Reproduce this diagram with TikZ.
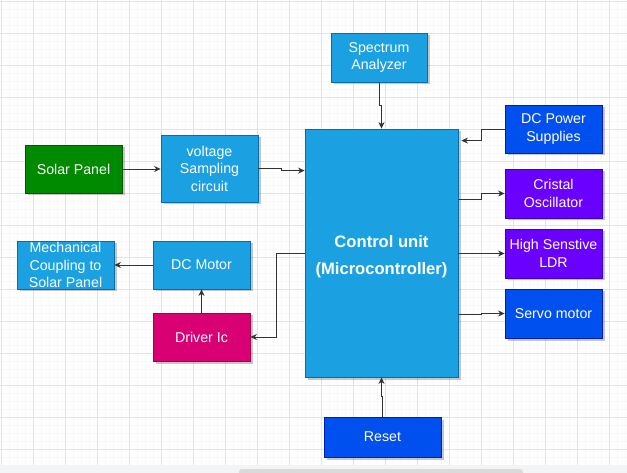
\documentclass[tikz,border=0pt]{standalone}
\usepackage{fontspec}
\setmainfont{Liberation Sans}
\usetikzlibrary{arrows.meta,shadows}

\definecolor{vert}{HTML}{008A00}
\definecolor{vertbord}{HTML}{005700}
\definecolor{cyan}{HTML}{1BA1E2}
\definecolor{cyanbord}{HTML}{006EAF}
\definecolor{rose}{HTML}{D80073}
\definecolor{rosebord}{HTML}{A50040}
\definecolor{bleu}{HTML}{0050EF}
\definecolor{bleubord}{HTML}{001DBC}
\definecolor{violet}{HTML}{6A00FF}
\definecolor{violetbord}{HTML}{3700CC}
\definecolor{trait}{HTML}{333333}
\definecolor{grillefine}{HTML}{F8F8F8}
\definecolor{grille}{HTML}{E3E3E3}
\definecolor{bande}{HTML}{F3F4F6}
\definecolor{curseur}{HTML}{DADADA}

\tikzset{
  bloc/.style={draw, line width=0.8pt, text=white, align=center, inner sep=0pt,
    font=\fontsize{14.2}{17.5}\selectfont,
    drop shadow={shadow xshift=2.5pt, shadow yshift=-2.5pt, fill=black, opacity=0.22}},
  liaison/.style={draw=trait, line width=0.9pt, -{Stealth[length=6.5pt,width=6pt]}},
}

\begin{document}
\begin{tikzpicture}[x=1pt,y=-1pt]

\fill[white] (0,0) rectangle (627,473) ;
\useasboundingbox (0,0) rectangle (627,473) ;

% grille

\foreach \x in {1,9,...,625} \draw[grillefine, line width=0.7pt] (\x,0) -- (\x,465) ;
\foreach \y in {1,9,...,465} \draw[grillefine, line width=0.7pt] (0,\y) -- (627,\y) ;
\foreach \x in {1,33,...,625} \draw[grille, line width=0.9pt] (\x,0) -- (\x,465) ;
\foreach \y in {1,33,...,465} \draw[grille, line width=0.9pt] (0,\y) -- (627,\y) ;

% barre de défilement

\fill[bande] (0,465) rectangle (627,473) ;
\begin{scope}
\clip (0,465) rectangle (627,473) ;
\fill[curseur, rounded corners=3pt] (239,469) rectangle (523,480) ;
\end{scope}

% blocs

\node[bloc, fill=vert, draw=vertbord, minimum width=97pt, minimum height=48pt] (solar) at (73.5,169) {Solar Panel} ;
\node[bloc, fill=cyan, draw=cyanbord, minimum width=97pt, minimum height=67pt] (volt) at (209.5,168.5) {voltage\\Sampling\\circuit} ;
\node[bloc, fill=cyan, draw=cyanbord, minimum width=97pt, minimum height=48pt] (mech) at (65.5,265) {Mechanical\\Coupling to\\Solar Panel} ;
\node[bloc, fill=cyan, draw=cyanbord, minimum width=97pt, minimum height=48pt] (motor) at (201.5,265) {DC Motor} ;
\node[bloc, fill=rose, draw=rosebord, minimum width=97pt, minimum height=48pt] (driver) at (201.5,337) {Driver Ic} ;
\node[bloc, fill=cyan, draw=cyanbord, minimum width=153pt, minimum height=248pt,
  font=\bfseries\fontsize{16.6}{26.7}\selectfont] (ctrl) at (381.5,253) {\rule{0pt}{19pt}Control unit\\(Microcontroller)} ;
\node[bloc, fill=cyan, draw=cyanbord, minimum width=96pt, minimum height=49pt] (spec) at (379,57.5) {Spectrum\\Analyzer} ;
\node[bloc, fill=bleu, draw=bleubord, minimum width=97pt, minimum height=48pt] (power) at (553.5,129) {DC Power\\Supplies} ;
\node[bloc, fill=violet, draw=violetbord, minimum width=97pt, minimum height=49pt] (osc) at (553.5,193.5) {Cristal\\Oscillator} ;
\node[bloc, fill=violet, draw=violetbord, minimum width=97pt, minimum height=49pt] (ldr) at (553.5,253.5) {High Senstive\\LDR} ;
\node[bloc, fill=bleu, draw=bleubord, minimum width=97pt, minimum height=49pt] (servo) at (553.5,313.5) {Servo motor} ;
\node[bloc, fill=bleu, draw=bleubord, minimum width=117pt, minimum height=40pt] (reset) at (382.5,437) {Reset} ;

% liaisons

\draw[liaison] (solar.east) -- (solar.east -| volt.west) ;
\draw[liaison] (volt.east) -- ++(23,0) |- ([yshift=-42pt]ctrl.north west) ;
\draw[liaison] (spec.south) -- ++(0,23) -| (ctrl.north) ;
\draw[liaison, shorten >=3pt] (power.west) -- ++(-23.5,0) |- ([yshift=-12pt]ctrl.north east) ;
\draw[liaison] ([yshift=-71pt]ctrl.north east) -- ++(23.5,0) |- (osc.west) ;
\draw[liaison] (ctrl.east |- ldr.west) -- (ldr.west) ;
\draw[liaison] ([yshift=-186pt]ctrl.north east) -- ++(23.5,0) |- (servo.west) ;
\draw[liaison] (reset.north) -- ++(0,-20) -| (ctrl.south) ;
\draw[liaison] (ctrl.west) -- ++(-28,0) |- (driver.east) ;
\draw[liaison] (driver) -- (motor) ;
\draw[liaison] (motor) -- (mech) ;

\end{tikzpicture}
\end{document}
